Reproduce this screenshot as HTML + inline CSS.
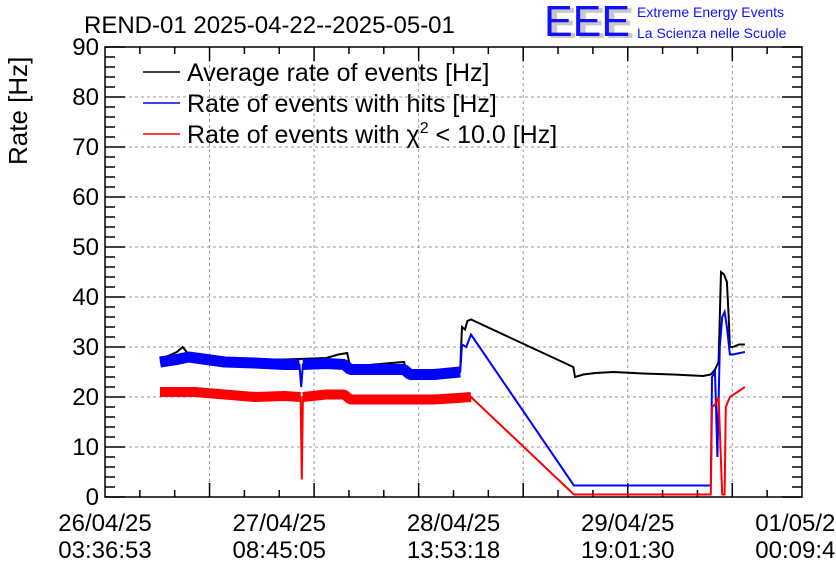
<!DOCTYPE html>
<html><head><meta charset="utf-8">
<style>
body{margin:0;background:#fff;}
svg{display:block;font-family:"Liberation Sans",sans-serif;}
</style></head>
<body>
<svg id="chart" width="836" height="572" viewBox="0 0 836 572">
<rect x="0" y="0" width="836" height="572" fill="#fff"/>
<g id="grid"></g>
<g id="axes"></g>
<g id="series"></g>
<text x="84" y="33" font-size="24">REND-01 2025-04-22--2025-05-01</text>
<text transform="translate(27,165) rotate(-90)" font-size="26">Rate [Hz]</text>
<g>
<text x="548" y="38" font-size="44" fill="#c8c8c8" font-weight="bold" textLength="86" lengthAdjust="spacingAndGlyphs">EEE</text>
<text x="544" y="36" font-size="44" fill="#1010ff" textLength="86" lengthAdjust="spacingAndGlyphs">EEE</text>
<text x="637" y="17" font-size="14" fill="#1010ff">Extreme Energy Events</text>
<text x="637" y="38" font-size="14" fill="#1010ff">La Scienza nelle Scuole</text>
</g>
<g>
<g><line x1="143" y1="72" x2="180" y2="72" stroke="#000" stroke-width="1.5"/><text x="187" y="81" font-size="25">Average rate of events [Hz]</text></g>
<g><line x1="143" y1="103" x2="180" y2="103" stroke="#00f" stroke-width="1.5"/><text x="187" y="112" font-size="25">Rate of events with hits [Hz]</text></g>
<g><line x1="143" y1="134" x2="180" y2="134" stroke="#f00" stroke-width="1.5"/><text x="187" y="143" font-size="25">Rate of events with χ<tspan dy="-10" font-size="16">2</tspan><tspan dy="10"> &lt; 10.0 [Hz]</tspan></text></g>
</g>
</svg>
<script>
const yTicks=[0,10,20,30,40,50,60,70,80,90];
const xTickHours=[0,29.14,58.28,87.41,116.55];
const xTickLine1=["26/04/25","27/04/25","28/04/25","29/04/25","01/05/25"];
const xTickLine2=["03:36:53","08:45:05","13:53:18","19:01:30","00:09:43"];
const avgTimes=[9.2,12,13,14,20,30,37,39,40.5,41,45,50,50.5,55,59.4,59.7,60.2,60.6,61.2,78.3,78.6,80,82,85,90,95,100,101.3,102,102.6,103,103.5,104,104.3,104.5,105,106,107];
const avgValues=[27.5,29,30,28.5,27.5,27.5,27.8,28.5,28.8,26,26.5,27,25,24.8,25.5,34,33.5,35.2,35.5,26,24,24.5,24.8,25,24.7,24.5,24.2,24.5,25.5,27,45,44.5,43,36,30,30,30.5,30.5];
const hitTimes=[9.2,12,14,20,25,30,32.5,32.8,33.1,37,40,41,46,50,51,55,59.4,59.7,60.4,61.2,78.4,90,101.3,101.5,102,102.4,102.8,103.2,103.6,104,104.5,105,107];
const hitValues=[27,27.5,28,27,26.8,26.5,26.5,22,26.5,26.7,26.5,25.5,25.5,25.5,24.5,24.5,25,30.5,30,32.5,2.3,2.3,2.3,24,25,8,30,36,37,34,28.5,28.5,29];
const chiTimes=[9.2,15,20,25,30,32.7,32.9,33.1,37,40,41,50,55,59,61.2,78.4,90,101.3,101.5,102,102.6,103.2,103.6,103.8,104.5,107];
const chiValues=[21,21,20.5,20,20.2,20,3.5,20,20.5,20.5,19.5,19.5,19.5,19.8,20,0.5,0.5,0.5,18,18.5,20,0.5,0.5,18,20,22];
const X0=105,X1=802,Y0=497,Y1=47,HMAX=116.55,VMAX=90;
const xs=h=>X0+h*(X1-X0)/HMAX, ys=v=>Y0-v*(Y0-Y1)/VMAX;
const NS="http://www.w3.org/2000/svg";
function mk(tag,attrs,parent){const e=document.createElementNS(NS,tag);for(const k in attrs)e.setAttribute(k,attrs[k]);parent.appendChild(e);return e;}
const grid=document.getElementById('grid'),axes=document.getElementById('axes'),ser=document.getElementById('series');
for(let i=1;i<7;i++){const x=X0+i*104.55;const l=mk('line',{x1:x,y1:Y1,x2:x,y2:Y0,stroke:'#999','stroke-dasharray':'3,3'},grid);

for(const y of [Y0,Y1]){const d=y===Y0?-1:1;mk('line',{x1:x,y1:y,x2:x,y2:y+d*14,stroke:'#000','stroke-width':1.5},axes);}}
for(let i=0;i<20;i++){if(i%3===0)continue;const x=X0+i*104.55/3;if(x>X1)break;for(const y of [Y0,Y1]){const d=y===Y0?-1:1;mk('line',{x1:x,y1:y,x2:x,y2:y+d*7,stroke:'#000','stroke-width':1.5},axes);}}
yTicks.forEach(v=>{const y=ys(v);
if(v>0&&v<90){const g=mk('line',{x1:X0,y1:y,x2:X1,y2:y,stroke:'#999','stroke-dasharray':'3,3'},grid);}
mk('line',{x1:X0,y1:y,x2:X0+20,y2:y,stroke:'#000','stroke-width':1.5},axes);
mk('line',{x1:X1,y1:y,x2:X1-20,y2:y,stroke:'#000','stroke-width':1.5},axes);
const t=mk('text',{x:X0-6,y:y+8,'font-size':24,'text-anchor':'end'},axes);t.textContent=v;
});
for(let v=2;v<90;v+=2){if(v%10===0)continue;const y=ys(v);
mk('line',{x1:X0,y1:y,x2:X0+10,y2:y,stroke:'#000','stroke-width':1.5},axes);
mk('line',{x1:X1,y1:y,x2:X1-10,y2:y,stroke:'#000','stroke-width':1.5},axes);}
mk('rect',{x:X0,y:Y1,width:X1-X0,height:Y0-Y1,fill:'none',stroke:'#000','stroke-width':1.5},axes);
xTickHours.forEach((h,i)=>{const x=xs(h);
const t=mk('text',{x:x,y:531,'font-size':24,'text-anchor':'middle'},axes);t.textContent=xTickLine1[i];

const t2=mk('text',{x:x,y:558,'font-size':24,'text-anchor':'middle'},axes);t2.textContent=xTickLine2[i];
});
function draw(times,vals,color,name,ranges,bandW){
const pts=times.map((t,i)=>xs(t).toFixed(1)+','+ys(vals[i]).toFixed(1));
const p=mk('polyline',{points:pts.join(' '),fill:'none',stroke:color,'stroke-width':2},ser);

ranges.forEach(r=>{const b=mk('polyline',{points:pts.slice(r[0],r[1]).join(' '),fill:'none',stroke:color,'stroke-width':bandW,'stroke-linejoin':'bevel'},ser);
});}
draw(avgTimes,avgValues,'#000','average-rate-line',[],0);
draw(hitTimes,hitValues,'#00f','hits-rate-line',[[0,7],[8,17]],11);
draw(chiTimes,chiValues,'#f00','chi2-rate-line',[[0,6],[7,15]],10);
</script>
</body></html>
